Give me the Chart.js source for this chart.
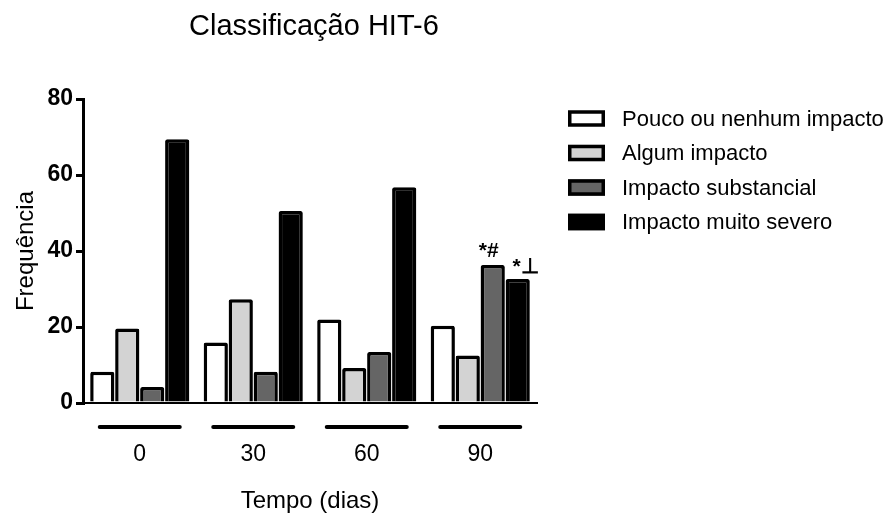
<!DOCTYPE html>
<html>
<head>
<meta charset="utf-8">
<script src="https://cdn.jsdelivr.net/npm/chart.js@4.4.1/dist/chart.umd.min.js"></script>
<style>
  html, body { margin: 0; padding: 0; background: #ffffff; }
  canvas { display: block; }
</style>
</head>
<body>
<canvas id="chart" width="892" height="517"></canvas>
<script>
// ---- Data ----
const chartTitle = 'Classificação HIT-6';
const categories = ['0', '30', '60', '90'];
const seriesLabels = ['Pouco ou nenhum impacto', 'Algum impacto', 'Impacto substancial', 'Impacto muito severo'];
const poucoValues = [8.2, 15.9, 22.0, 20.3];
const algumValues = [19.6, 27.3, 9.2, 12.5];
const substancialValues = [4.2, 8.2, 13.4, 36.3];
const severoValues = [69.4, 50.5, 56.8, 32.6];
const yTicks = [0, 20, 40, 60, 80];
const xAxisTitle = 'Tempo (dias)';
const yAxisTitle = 'Frequência';
// significance marks: series index, category index, text
const markSeries = [2, 3];
const markCategory = [3, 3];
const markText = ['*#', '*\u22A5'];

// ---- Styles ----
const FONT = '"Liberation Sans", Arial, Helvetica, sans-serif';
const fills = ['#ffffff', '#d3d3d3', '#656565', '#000000'];
const seriesValues = [poucoValues, algumValues, substancialValues, severoValues];

const datasets = seriesLabels.map((label, i) => ({
  label: label,
  data: seriesValues[i],
  backgroundColor: fills[i],
  borderColor: '#000000',
  borderWidth: 3.5,
  borderRadius: 2,
  borderSkipped: 'start',
  barPercentage: 0.97,
  categoryPercentage: 0.88
}));

const decor = {
  id: 'decor',
  afterDraw(chart) {
    const ctx = chart.ctx;
    const xs = chart.scales.x;
    ctx.save();
    // title
    ctx.fillStyle = '#000';
    ctx.font = '29px ' + FONT;
    ctx.textAlign = 'left';
    ctx.textBaseline = 'alphabetic';
    ctx.fillText(chartTitle, 189, 35);

    // group underlines
    ctx.strokeStyle = '#000';
    ctx.lineWidth = 4;
    ctx.lineCap = 'round';
    categories.forEach((c, i) => {
      const cx = xs.getPixelForValue(i);
      ctx.beginPath();
      ctx.moveTo(cx - 40, 427);
      ctx.lineTo(cx + 40, 427);
      ctx.stroke();
    });

    // legend
    ctx.lineCap = 'butt';
    chart.data.datasets.forEach((ds, i) => {
      const cy = 118.5 + i * 34.5;
      const bx = 568, bw = 37, bh = 16.5;
      const by = cy - bh / 2;
      ctx.fillStyle = ds.backgroundColor;
      ctx.fillRect(bx, by, bw, bh);
      ctx.lineWidth = 3.5;
      ctx.strokeStyle = '#000';
      ctx.strokeRect(bx + 1.75, by + 1.75, bw - 3.5, bh - 3.5);
      ctx.fillStyle = '#000';
      ctx.font = '22px ' + FONT;
      ctx.textAlign = 'left';
      ctx.textBaseline = 'middle';
      ctx.fillText(ds.label, 622, cy + 1);
    });

    // significance marks
    ctx.font = 'bold 21px ' + FONT;
    ctx.textAlign = 'center';
    ctx.textBaseline = 'alphabetic';
    markText.forEach((t, k) => {
      const bar = chart.getDatasetMeta(markSeries[k]).data[markCategory[k]];
      const dx = k === 0 ? -4 : 8;
      const dy = k === 0 ? 8 : 6;
      ctx.fillStyle = '#000';
      ctx.fillText(t, bar.x + dx, bar.y - dy);
    });
    ctx.restore();
  }
};

new Chart(document.getElementById('chart'), {
  type: 'bar',
  data: { labels: categories, datasets: datasets },
  plugins: [decor],
  options: {
    responsive: false,
    animation: false,
    layout: { padding: { left: 0, right: 355, top: 99, bottom: 0 } },
    plugins: {
      legend: { display: false },
      title: { display: false },
      tooltip: { enabled: false }
    },
    scales: {
      x: {
        afterFit(scale) { scale.height = 114; },
        grid: { display: false, drawTicks: false },
        border: { display: true, color: '#000', width: 2 },
        ticks: { color: '#000', padding: 38, font: { family: FONT, size: 23 } },
        title: {
          display: true, text: xAxisTitle, color: '#000',
          font: { family: FONT, size: 24 }, padding: { top: 0, bottom: 1 }
        }
      },
      y: {
        min: 0, max: 80,
        afterFit(scale) { scale.width = 83; },
        afterBuildTicks(scale) { scale.ticks = yTicks.map(v => ({ value: v })); },
        grid: { drawOnChartArea: false, drawTicks: true, tickLength: 7, color: '#000', lineWidth: 3 },
        border: { display: true, color: '#000', width: 3 },
        ticks: { color: '#000', padding: 3, font: { family: FONT, size: 23, weight: 'bold' } },
        title: {
          display: true, text: yAxisTitle, color: '#000',
          font: { family: FONT, size: 24 }, padding: { top: 12, bottom: 0 }
        }
      }
    }
  }
});
</script>
</body>
</html>
